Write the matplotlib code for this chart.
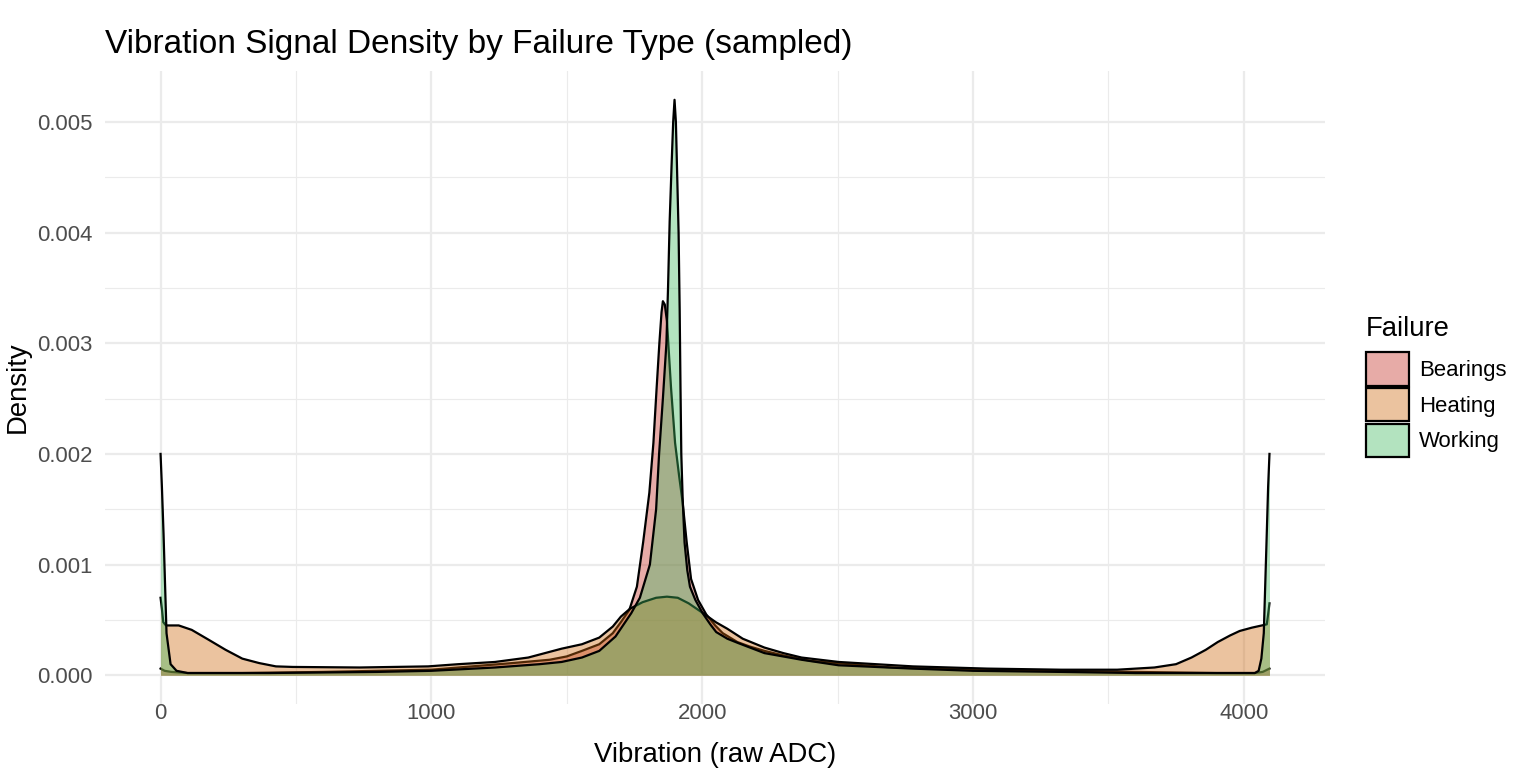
import numpy as np
import matplotlib
matplotlib.use("Agg")
import matplotlib.pyplot as plt
from matplotlib.patches import Patch

plt.rcParams['font.family'] = ['Liberation Sans', 'DejaVu Sans']

# density curves (x = raw ADC, y = density)
bearings_x = [0, 15, 40, 100, 300, 600, 800, 1000, 1100, 1200, 1300, 1437, 1500, 1556, 1620, 1670,
              1700, 1731, 1759, 1782, 1805, 1820, 1832, 1842, 1850, 1855, 1862, 1870, 1885, 1900,
              1915, 1928, 1943, 1959, 1985, 2015, 2048, 2076, 2130, 2175, 2230, 2298, 2400, 2544,
              2700, 3000, 3300, 3600, 3900, 4040, 4070, 4095]
bearings_y = [0.00006, 0.00004, 0.00003, 0.00002, 0.00002, 0.00003, 0.00004, 0.00005, 0.00007, 0.00009,
              0.00011, 0.00014, 0.00017, 0.00022, 0.00028, 0.00038, 0.00048, 0.00059, 0.0008, 0.0012,
              0.00165, 0.0021, 0.0026, 0.003, 0.00328, 0.00338, 0.00335, 0.0032, 0.0026, 0.0021,
              0.0018, 0.00156, 0.0012, 0.00087, 0.00068, 0.00055, 0.00045, 0.00038, 0.0003, 0.00026,
              0.00022, 0.00018, 0.00013, 0.0001, 0.00007, 0.00005, 0.00004, 0.00003, 0.00002, 0.00002,
              0.00003, 0.00006]

heating_x = [0, 5, 10, 20, 50, 67, 115, 178, 240, 302, 364, 426, 488, 735, 988, 1100, 1235, 1358,
             1481, 1556, 1620, 1670, 1700, 1733, 1780, 1830, 1870, 1910, 1950, 2004, 2050, 2093,
             2150, 2230, 2300, 2367, 2504, 2778, 3052, 3326, 3533, 3670, 3750, 3807, 3860, 3904,
             3950, 3985, 4030, 4067, 4085, 4090, 4095]
heating_y = [0.0007, 0.0006, 0.00048, 0.00045, 0.00045, 0.00045, 0.00041, 0.00032, 0.00023, 0.00015,
             0.00011, 0.00008, 0.000075, 0.00007, 0.00008, 0.0001, 0.00012, 0.00016, 0.00024, 0.00028,
             0.00034, 0.00044, 0.00053, 0.0006, 0.00066, 0.0007, 0.00071, 0.0007, 0.00065, 0.00056,
             0.00048, 0.00042, 0.00033, 0.00025, 0.0002, 0.00016, 0.00012, 0.00008, 0.00006, 0.00005,
             0.00005, 0.00007, 0.0001, 0.00016, 0.00023, 0.0003, 0.00036, 0.0004, 0.00043, 0.00045,
             0.00046, 0.00055, 0.00065]

working_x = [0, 5, 11, 22, 37, 59, 100, 400, 800, 1000, 1235, 1400, 1481, 1556, 1620, 1680, 1738,
             1770, 1807, 1830, 1841, 1855, 1868, 1874, 1880, 1887, 1893, 1898, 1903, 1908, 1913,
             1917, 1920, 1923, 1928, 1935, 1945, 1955, 1975, 2002, 2030, 2052, 2093, 2134, 2230,
             2367, 2504, 2778, 3000, 3326, 3600, 3870, 4041, 4055, 4065, 4074, 4085, 4090, 4095]
working_y = [0.002, 0.0017, 0.00128, 0.00038, 0.0001, 0.00004, 0.00002, 0.00002, 0.00003, 0.00004,
             0.00007, 0.0001, 0.00012, 0.00016, 0.00022, 0.00035, 0.00056, 0.0007, 0.001, 0.0015,
             0.002, 0.0025, 0.003, 0.0035, 0.0041, 0.0046, 0.005, 0.0052, 0.005, 0.0045, 0.004,
             0.0033, 0.0026, 0.002, 0.0016, 0.0012, 0.00095, 0.0008, 0.00068, 0.00056, 0.00046,
             0.00039, 0.00033, 0.00029, 0.0002, 0.00014, 0.00009, 0.00006, 0.00004, 0.00003, 0.00002,
             0.00002, 0.00002, 0.00004, 0.00015, 0.00038, 0.00128, 0.0017, 0.002]

groups = ["Bearings", "Heating", "Working"]
colors = ["#C52D25", "#CD6911", "#41B961"]
series = [(bearings_x, bearings_y), (heating_x, heating_y), (working_x, working_y)]
alpha = 0.4

fig = plt.figure(figsize=(1538/150, 778/150), dpi=150)
ax = fig.add_axes([0.0683, 0.0951, 0.8615-0.0683, 0.9087-0.0951])

for i, (xs, ys) in enumerate(series):
    ax.fill_between(xs, 0, ys, color=colors[i], alpha=alpha, linewidth=0, zorder=2+2*i)
    ax.plot(xs, ys, color='black', lw=1.07, zorder=3+2*i, solid_joinstyle='round')

ax.set_xlim(-205, 4300)
ax.set_ylim(-0.00026, 0.00546)
ax.set_xticks([0, 1000, 2000, 3000, 4000])
ax.set_xticks([500, 1500, 2500, 3500], minor=True)
ax.set_yticks(np.arange(0, 0.0051, 0.001))
ax.set_yticks(np.arange(0.0005, 0.0051, 0.001), minor=True)
ax.set_yticklabels([f"{v:.3f}" for v in np.arange(0, 0.0051, 0.001)])
ax.grid(which='major', color='#EBEBEB', lw=1.07, zorder=0)
ax.grid(which='minor', color='#EBEBEB', lw=0.55, zorder=0)
ax.tick_params(which='both', length=0, labelsize=10.6, labelcolor='#4D4D4D')
ax.tick_params(axis='x', pad=-0.5)
ax.tick_params(axis='y', pad=5.8)
for s in ax.spines.values():
    s.set_visible(False)

ax.set_xlabel("Vibration (raw ADC)", fontsize=13.2, labelpad=8.5)
ax.set_ylabel("Density", fontsize=13.2, labelpad=3)
ax.set_title("Vibration Signal Density by Failure Type (sampled)", fontsize=16, loc='left', pad=8.5)

handles = [Patch(facecolor=matplotlib.colors.to_rgba(colors[i], alpha), edgecolor='black', linewidth=1.07)
           for i in range(3)]
leg = ax.legend(handles, groups, title="Failure", loc='upper left',
                bbox_to_anchor=(1366/1538, 1-316/778), bbox_transform=fig.transFigure,
                frameon=False, fontsize=10.6, title_fontsize=13.2, alignment='left',
                handlelength=1.95, handleheight=1.95, labelspacing=0.1, handletextpad=0.45,
                borderpad=0, borderaxespad=0)
leg._legend_box.sep = 5  # gap between legend title and keys (points)

fig.savefig("out.png", dpi=150)
